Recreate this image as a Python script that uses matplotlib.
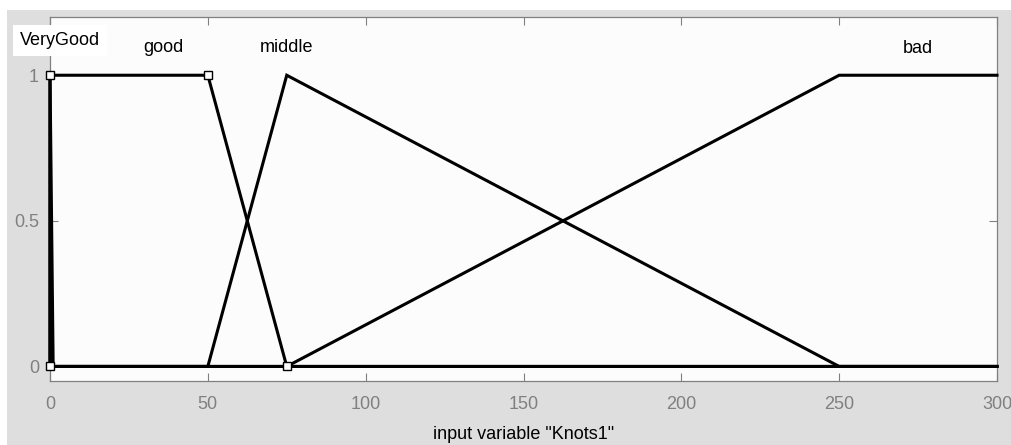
import numpy as np
import matplotlib
matplotlib.use("Agg")
import matplotlib.pyplot as plt
from matplotlib.patches import Rectangle

plt.rcParams['font.family'] = ['Liberation Sans', 'DejaVu Sans']

# Membership functions (name, type, params) on input variable "Knots1"
mf_names = ["VeryGood", "good", "middle", "bad"]
mf_params = {
    "VeryGood": [0, 0, 0, 1],       # trapmf
    "good":     [0, 0, 50, 75],     # trapmf (selected -> markers)
    "middle":   [50, 75, 250],      # trimf
    "bad":      [75, 250, 300, 300] # trapmf
}
label_x = {"VeryGood": 3.2, "good": 36, "middle": 75, "bad": 275}
label_y = {"VeryGood": 1.104, "good": 1.08, "middle": 1.08, "bad": 1.078}
x_range = [0, 300]
x_ticks = [0, 50, 100, 150, 200, 250, 300]
y_ticks = [0, 0.5, 1]
y_ticklabels = ["0", "0.5", "1"]
xlabel = 'input variable "Knots1"'
selected = "good"


def mf_vertices(p):
    if len(p) == 3:
        a, b, c = p
        xs = [x_range[0], a, b, c, x_range[1]]
        ys = [0, 0, 1, 0, 0]
    else:
        a, b, c, d = p
        xs = [x_range[0], a, b, c, d, x_range[1]]
        ys = [0, 0, 1, 1, 0, 0]
        if a == x_range[0] and b == x_range[0]:
            ys[0] = 1 if a == b else 0
            xs, ys = [a, b, c, d, x_range[1]], [0, 1, 1, 0, 0]
        if d == x_range[1] and c == x_range[1]:
            xs, ys = [x_range[0], a, b, x_range[1]], [0, 0, 1, 1]
    return xs, ys


W, H = 1012, 445
fig = plt.figure(figsize=(W / 100, H / 100), dpi=100, facecolor='white')
# grey panel behind the axes
fig.patches.append(Rectangle((7 / W, 0), 1 - 7 / W, 1 - 10 / H,
                             transform=fig.transFigure, facecolor='#dedede',
                             edgecolor='none', zorder=-10))

ax = fig.add_axes([50 / W, 1 - 381 / H, (997 - 50) / W, (381 - 17) / H])
ax.set_facecolor('#fcfcfc')

for name in mf_names:
    xs, ys = mf_vertices(mf_params[name])
    ax.plot(xs, ys, color='black', lw=2.2, solid_joinstyle='miter', zorder=3,
            clip_on=False)

# markers on selected MF
sp = mf_params[selected]
mx = [sp[0], sp[1], sp[2], sp[3]]
my = [0, 1, 1, 0]
ax.plot(mx, my, linestyle='none', marker='s', ms=5.5, mfc='white',
        mec='black', mew=1.0, zorder=4, clip_on=False)

for name in mf_names:
    kw = {}
    if name == "VeryGood":
        kw['bbox'] = dict(facecolor='white', edgecolor='none', pad=5)
    ax.text(label_x[name], label_y[name], name, ha='center', va='baseline',
            fontsize=13, color='black', zorder=6, clip_on=False, **kw)

ax.set_xlim(x_range)
ax.set_ylim(-0.05, 1.2)
ax.set_xticks(x_ticks)
ax.set_yticks(y_ticks)
ax.set_yticklabels(y_ticklabels)
ax.tick_params(direction='in', length=6, width=0.8, color='#808080',
               labelcolor='#808080', labelsize=13, top=True, right=True)
ax.tick_params(axis='x', pad=11)
ax.tick_params(axis='y', pad=8)
for s in ax.spines.values():
    s.set_color('#808080')
    s.set_linewidth(0.9)
ax.set_xlabel(xlabel, fontsize=13, color='black', labelpad=9)

fig.savefig('out.png', dpi=100, facecolor=fig.get_facecolor())
